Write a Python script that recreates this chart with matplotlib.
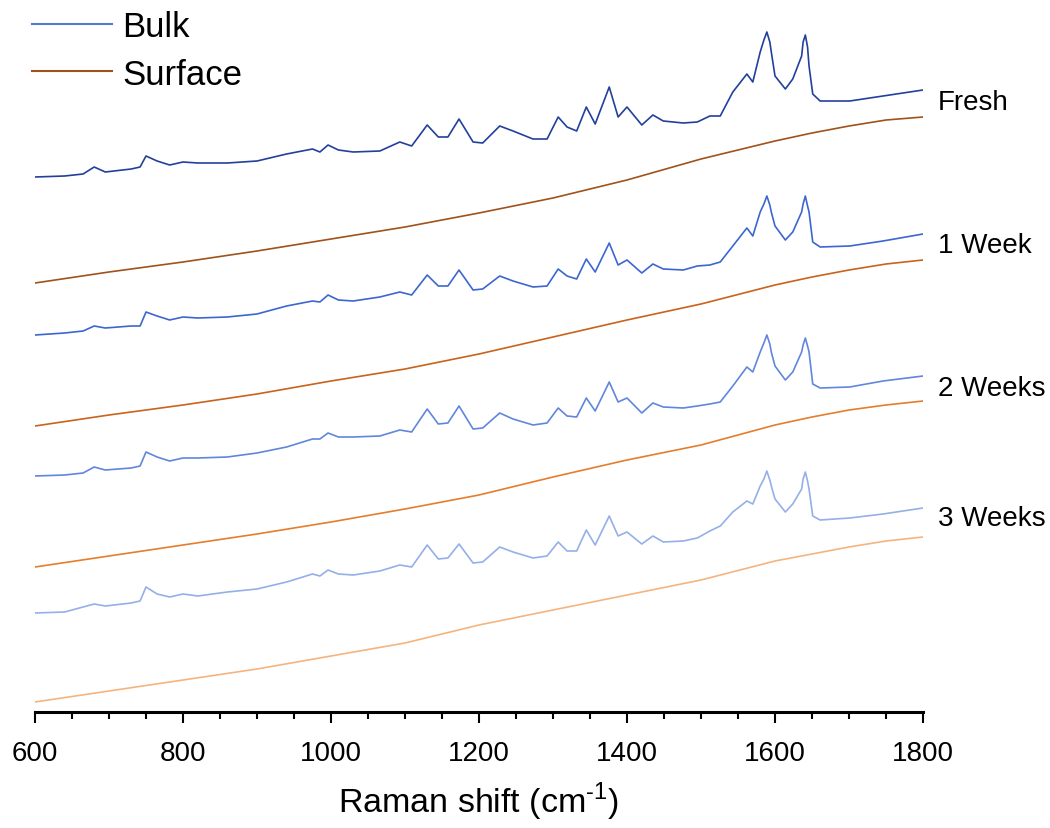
import numpy as np
import matplotlib.pyplot as plt
from matplotlib.ticker import MultipleLocator

# Raman shift grids (cm-1)
bulk_shift = [600, 640, 665, 680, 695, 730, 742, 750, 765, 782,
              800, 820, 860, 900, 940, 975, 985, 996, 1010, 1030,
              1066, 1093, 1109, 1130, 1145, 1158, 1173, 1192, 1205, 1228,
              1246, 1273, 1292, 1307, 1319, 1332, 1345, 1357, 1376, 1388,
              1400, 1420, 1435, 1449, 1476, 1495, 1512, 1526, 1543, 1562,
              1570, 1580, 1585, 1589, 1593, 1595, 1600, 1614, 1624, 1636,
              1638, 1641, 1644, 1646, 1651, 1661, 1701, 1746, 1800]
surface_shift = [600, 700, 800, 900, 1000, 1100, 1200, 1300, 1400, 1500,
                 1600, 1650, 1700, 1750, 1800]

# intensities (a.u., already stacked with offsets)
bulk_fresh = [535, 536, 538, 545, 540, 543, 545, 556, 551, 547,
              550, 549, 549, 551, 558, 563, 560, 567, 562, 560,
              561, 570, 566, 587, 575, 575, 593, 570, 569, 586,
              581, 573, 573, 595, 585, 581, 605, 588, 625, 595,
              605, 587, 597, 591, 589, 590, 596, 596, 620, 638,
              630, 660, 672, 680, 670, 660, 636, 623, 633, 656,
              670, 677, 665, 646, 618, 611, 611, 616, 622]
bulk_1week = [377, 379, 381, 386, 384, 386, 386, 400, 396, 392,
              395, 394, 395, 398, 406, 411, 410, 417, 412, 411,
              415, 420, 417, 437, 426, 426, 442, 422, 423, 436,
              431, 425, 426, 443, 436, 433, 453, 440, 469, 447,
              452, 439, 448, 443, 442, 446, 447, 450, 466, 484,
              476, 500, 508, 516, 507, 500, 486, 472, 480, 500,
              508, 516, 506, 500, 470, 465, 466, 471, 478]
bulk_2weeks = [236, 237, 239, 245, 242, 244, 246, 260, 255, 251,
               254, 254, 255, 259, 265, 273, 273, 279, 275, 275,
               276, 282, 280, 303, 288, 289, 306, 283, 284, 299,
               293, 287, 289, 304, 296, 295, 314, 301, 330, 310,
               314, 299, 309, 305, 304, 306, 308, 310, 326, 345,
               340, 360, 369, 377, 368, 360, 346, 332, 340, 360,
               367, 374, 366, 360, 328, 324, 325, 331, 336]
bulk_3weeks = [99, 100, 105, 108, 106, 109, 111, 125, 118, 115,
               118, 116, 120, 123, 130, 138, 136, 142, 138, 137,
               141, 147, 145, 167, 153, 154, 168, 149, 150, 165,
               160, 154, 156, 170, 161, 161, 182, 167, 196, 176,
               180, 168, 176, 170, 171, 174, 181, 186, 200, 211,
               208, 226, 233, 241, 232, 226, 213, 200, 208, 223,
               233, 240, 231, 223, 196, 192, 194, 198, 204]

surf_fresh = [429, 440, 450, 461, 473, 485, 499, 514, 532, 553, 571, 579, 586, 592, 595]
surf_1week = [286, 297, 307, 318, 331, 343, 358, 375, 392, 408, 427, 435, 442, 448, 452]
surf_2weeks = [145, 156, 167, 178, 190, 203, 217, 235, 252, 267, 287, 295, 302, 307, 311]
surf_3weeks = [10, 21, 32, 43, 56, 69, 87, 102, 117, 132, 151, 158, 165, 171, 175]

sample_labels = ["Fresh", "1 Week", "2 Weeks", "3 Weeks"]
label_y = [610, 467, 324, 194]

bulk_colors = ["#22409c", "#3c66d0", "#6186dc", "#95afe9"]
surf_colors = ["#a0521c", "#c9631c", "#e67d2c", "#f5b47e"]

plt.rcParams['font.family'] = ['Liberation Sans', 'DejaVu Sans']
plt.rcParams['mathtext.fontset'] = 'custom'
plt.rcParams['mathtext.rm'] = 'Liberation Sans'

fig = plt.figure(figsize=(10.5, 8.29), dpi=100)
ax = fig.add_axes([35/1050, (829-713)/829, 888/1050, 713/829])

bulk_all = [bulk_fresh, bulk_1week, bulk_2weeks, bulk_3weeks]
surf_all = [surf_fresh, surf_1week, surf_2weeks, surf_3weeks]
for b, s, cb, cs in zip(bulk_all, surf_all, bulk_colors, surf_colors):
    ax.plot(bulk_shift, b, color=cb, lw=1.2)
    ax.plot(surface_shift, s, color=cs, lw=1.2)

for lab, yy in zip(sample_labels, label_y):
    ax.text(1820, yy, lab, fontsize=20, va='center', ha='left', clip_on=False)

ax.set_xlim(600, 1800)
ax.set_ylim(0, 713)
for sp in ['top', 'right', 'left']:
    ax.spines[sp].set_visible(False)
ax.spines['bottom'].set_linewidth(2.2)
ax.set_yticks([])
ax.xaxis.set_major_locator(MultipleLocator(200))
ax.xaxis.set_minor_locator(MultipleLocator(50))
ax.tick_params(axis='x', which='major', length=8, width=1.5, labelsize=20, pad=12)
ax.tick_params(axis='x', which='minor', length=5, width=1.5)
ax.set_xlabel(r"Raman shift (cm$^{\mathrm{\text{-}1}}$)", fontsize=24.5, labelpad=10)

h1, = ax.plot([], [], color="#5577cc", lw=1.5, label="Bulk")
h2, = ax.plot([], [], color="#a0521c", lw=1.5, label="Surface")
ax.legend(handles=[h1, h2], loc='upper left', bbox_to_anchor=(32/1050, 1 - 11/829),
          bbox_transform=fig.transFigure, frameon=False, fontsize=25,
          handlelength=2.3, handletextpad=0.3, labelspacing=0.42,
          borderpad=0, borderaxespad=0)

fig.savefig("out.png", dpi=100)
